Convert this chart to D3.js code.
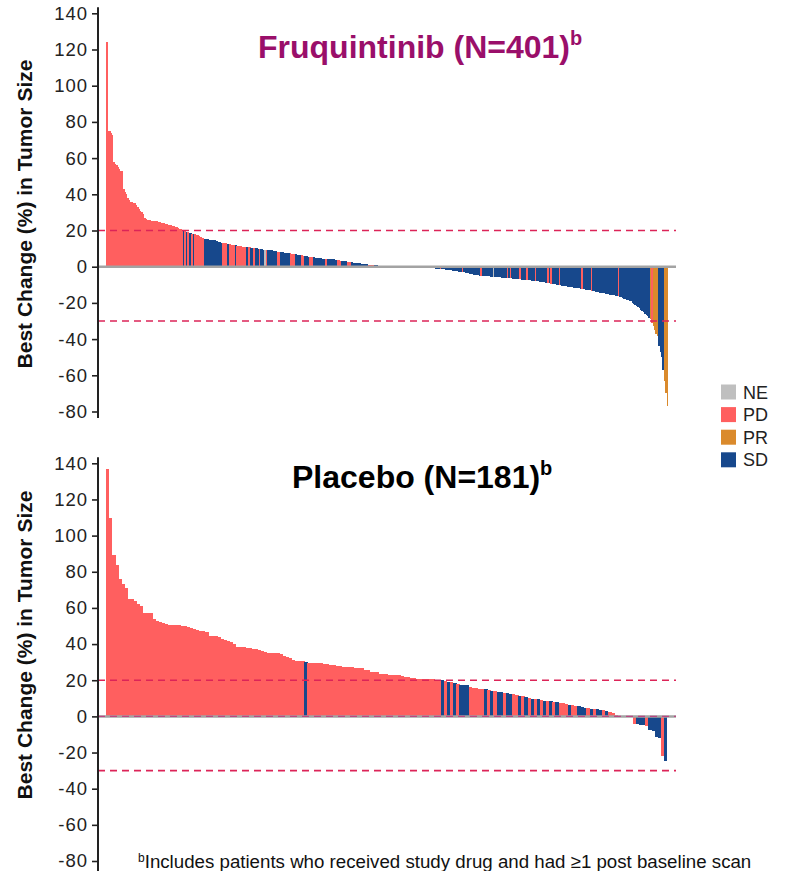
<!DOCTYPE html>
<html>
<head>
<meta charset="utf-8">
<title>Best Change in Tumor Size</title>
<script src="https://d3js.org/d3.v7.min.js"></script>
<style>
  body { margin: 0; background: #fff; }
  svg { font-family: "Liberation Sans", Arial, sans-serif; display: block; }
</style>
</head>
<body>
<div id="chart"></div>
<script>
// ---- data ----
var yTicks = [-80, -60, -40, -20, 0, 20, 40, 60, 80, 100, 120, 140];
var refLines = [20, -30];
var legendCodes = ["N", "P", "R", "S"];
var legendLabels = ["NE", "PD", "PR", "SD"];
var legendColors = ["#bfbfbf", "#ff5f5f", "#da8a2c", "#17488c"];

// Fruquintinib, one value per patient, sorted as in the plot
var fruqValues = [
  124, 75, 75, 74, 73,
  58, 57, 56, 55, 54, 53, 53,
  43, 41, 40,
  38, 37, 36, 36, 35, 35, 34, 33, 32, 31,
  30, 29, 27,
  26.5, 26, 26, 26, 25.5, 25.5, 25, 25, 25, 24.5, 24.5, 24, 24, 24, 23.5, 23.5, 23, 23, 23, 22.5, 22.5, 22, 22, 21.5, 21, 21, 20.5,
  20, 19.5, 19, 19, 18.5,
  18.5, 18, 18, 18, 17.5, 17.5,
  17, 16.5, 16, 16,
  15.5, 15.5, 15.5, 15, 15, 15, 14.5, 14.5, 14, 14, 13.5, 13.5,
  13, 13, 13, 13, 12.5, 12.5, 12.5, 12, 12, 12, 12, 11.5, 11.5, 11.5,
  11.5, 11, 11, 11, 11, 11, 11, 10.5, 10.5, 10.5, 10.5, 10.5,
  10, 10, 10, 10, 9.5, 9.5, 9.5, 9, 9, 9, 9, 8.5,
  8.5, 8.5, 8, 8, 8, 8, 8, 7.5, 7.5, 7.5, 7.5, 7.5,
  7, 7, 7, 7, 6.5, 6.5, 6.5, 6.5,
  6, 6, 6, 6, 5.5, 5.5, 5.5, 5.5, 5.5, 5, 5, 5, 5, 5, 4.5, 4.5, 4.5, 4.5, 4.5, 4, 4, 4, 4,
  3.5, 3.5, 3.5, 3.5, 3, 3, 3, 3, 3, 2.5, 2.5, 2.5, 2.5, 2, 2, 2, 2, 1.8, 1.8,
  1.5, 1.5, 1.5, 1.3, 1.3, 1.2, 1, 1, 1, 0.8, 0.8, 0.7, 0.6, 0.5, 0.5, 0.4, 0.3, 0.2, 0.1,
  0, 0, 0, 0, 0, 0, 0, 0, 0, 0, 0, 0, 0, 0, 0, 0, 0, 0, 0, 0, 0, 0, 0, 0, 0, 0,
  -0.2, -0.3, -0.3, -0.5, -0.5, -0.6, -0.8, -0.8, -1, -1, -1.1, -1.3, -1.3, -1.5, -1.5, -1.7, -1.8,
  -1.9, -2, -2, -2.2, -2.3, -2.5, -2.5, -2.7, -2.8, -3, -3, -3.2, -3.4, -3.5, -3.7, -3.9,
  -4.2, -4.3, -4.5, -4.6, -4.7, -4.8, -4.9, -5, -5, -5.1, -5.2, -5.3, -5.4, -5.4, -5.5, -5.6, -5.6, -5.7, -5.8, -5.8, -5.9, -5.9, -6, -6,
  -6.1, -6.2, -6.2, -6.3, -6.4, -6.5, -6.6, -6.7, -6.8, -6.8, -6.9, -7, -7.1, -7.2, -7.3, -7.4, -7.4, -7.5, -7.6, -7.7, -7.8, -7.9, -8, -8,
  -8.1, -8.2, -8.3, -8.5, -8.6, -8.8, -8.9, -9, -9.2, -9.3, -9.5, -9.6, -9.8, -9.9, -10, -10.2, -10.3, -10.5, -10.6, -10.7, -10.8, -11, -11.1,
  -11.2, -11.3, -11.5, -11.6, -11.8, -11.9, -12, -12.1, -12.3, -12.4, -12.5, -12.7, -12.8, -13, -13.1,
  -13.3, -13.4, -13.6, -13.8, -14, -14.1, -14.3, -14.5, -14.6, -14.8, -14.9, -15.1, -15.3, -15.4, -15.6, -15.8, -15.9, -16.1, -16.2,
  -16.4, -16.7, -17, -17.3, -17.6, -17.9, -18.2, -18.5, -18.8,
  -19.2, -19.8, -20.4, -21, -21.7, -22.3, -23,
  -23.7, -24.5, -25.3, -26, -26.8, -27.5, -28.2,
  -29, -31, -33, -35, -37, -38.5, -44, -47, -50, -57, -63, -70, -77
];
// response of each bar, as runs of [code, count]
var fruqStatusRuns = [
  ["P", 55], ["S", 1], ["P", 1], ["S", 1], ["P", 1], ["S", 2], ["P", 1], ["S", 1], ["P", 7],
  ["S", 13], ["P", 3], ["S", 2], ["P", 4], ["S", 1], ["P", 7],
  ["S", 1], ["P", 2], ["S", 2], ["P", 1], ["S", 3], ["P", 1], ["S", 3], ["N", 1], ["P", 1], ["S", 7], ["P", 2], ["S", 7], ["P", 4],
  ["S", 4], ["P", 2], ["S", 4], ["P", 3], ["S", 8], ["P", 2], ["S", 7], ["P", 3], ["S", 4], ["P", 3], ["S", 12], ["P", 4], ["S", 10],
  ["S", 26],
  ["S", 7], ["P", 1], ["S", 3], ["P", 1], ["S", 15], ["P", 1], ["S", 12], ["P", 1], ["S", 8], ["N", 1], ["S", 9],
  ["P", 1], ["S", 1], ["P", 1], ["S", 6], ["P", 1], ["S", 4], ["P", 1], ["S", 5], ["P", 1], ["S", 8], ["P", 1], ["S", 1], ["P", 1],
  ["S", 5], ["P", 1], ["S", 15], ["P", 1], ["S", 6], ["P", 1], ["S", 18], ["P", 1], ["S", 22],
  ["R", 1], ["P", 1], ["R", 4], ["S", 4], ["R", 3]
];

// Placebo
var placeboValues = [
  137, 110, 89, 84, 76, 73, 71, 65, 65, 64, 62, 61,
  57, 57, 57, 54, 52.5, 52, 51.5, 51, 50.5, 50.3, 50.3, 50.3, 50.2, 50, 49.5, 49, 48.5, 48, 47.5, 47, 46.5,
  44.5, 44.3, 44.2, 44, 43, 42.5, 41.5, 41, 40, 38.5, 38.3, 38.2, 38, 37.8, 37.3, 37, 36.8, 36.3, 35.5, 35.3, 35.2, 35, 34.8, 34.5, 33.5, 33, 32.5,
  31, 30.8, 30.6, 30.4,
  30,
  29.8, 29.7, 29.6, 29.5, 29.4, 29.2, 29,
  28.5, 28.3, 28,
  27.6, 27.5, 27.4, 27.3, 27.2, 27, 26.8, 26.5,
  25.8, 25.5,
  24.8, 24.6, 24.4,
  23.5, 23.3, 23.2, 23.1, 23, 22.9, 22.8, 22.5,
  21.8, 21.6, 21.5, 21.3,
  20.9, 20.8, 20.7, 20.7, 20.6, 20.5, 20.4, 20.3,
  20.2, 19.8, 19, 18.8, 18.2, 18, 17.6, 17.4, 17.2, 16, 15.8, 15.6, 15.4, 15.2, 15, 14.5, 14.3, 14, 13.5, 13.3, 13,
  12.8, 12.5, 12.2, 11.8, 11.4, 11, 10.5, 10.2, 9.8, 9.6, 9.4, 9.2, 8.7, 8.5, 8.3, 8.1, 7.9, 7.5, 7.2, 6.8, 6.4, 6.2, 6,
  5.5, 5.2, 4.8, 4.6, 4.2, 4.1, 4, 3.8, 3.4, 3.1, 2.4, 1.6, 0.9, 0.3,
  0, 0, 0, 0,
  -4, -4.4, -4.6, -5, -5.2, -7.5, -8, -11.5, -12, -22, -24.5
];
var placeboStatusRuns = [
  ["P", 64], ["S", 1], ["P", 43],
  ["S", 1], ["P", 1], ["S", 1], ["P", 1], ["S", 1], ["P", 1], ["S", 3], ["P", 5],
  ["S", 1], ["P", 1], ["S", 1], ["P", 1], ["S", 2], ["P", 1], ["S", 2], ["P", 2],
  ["S", 1], ["P", 1], ["S", 1], ["P", 1], ["S", 1], ["P", 1], ["S", 1], ["P", 1], ["S", 1], ["P", 1], ["S", 1], ["P", 1], ["S", 1],
  ["P", 3], ["S", 1], ["P", 2], ["S", 3], ["P", 1], ["S", 1], ["P", 1], ["S", 2], ["P", 1], ["S", 1], ["P", 8],
  ["P", 1], ["S", 3], ["P", 1], ["S", 4], ["P", 1], ["S", 1]
];

// ---- drawing ----
var width = 787, height = 871;
var color = d3.scaleOrdinal().domain(legendCodes).range(legendColors);

function expandRuns(runs) {
  var out = [];
  runs.forEach(function(r) { for (var i = 0; i < r[1]; i++) out.push(r[0]); });
  return out;
}

var svg = d3.select("#chart").append("svg")
    .attr("width", width)
    .attr("height", height);

function drawPanel(values, status, p) {
  var g = svg.append("g");
  var x = d3.scaleBand().domain(d3.range(values.length)).range([p.x0, p.x1]).padding(0);
  var y = d3.scaleLinear().domain([-80, 140]).range([p.yBottom, p.yTop]);

  var rows = values.map(function(v, i) { return {v: v, s: status[i] || "S", i: i}; });

  // bars
  g.selectAll("rect.bar")
    .data(rows.filter(function(d) { return d.v !== 0; }))
    .enter().append("rect")
      .attr("class", "bar")
      .attr("x", function(d) { return x(d.i); })
      .attr("width", x.bandwidth() + 0.3)
      .attr("y", function(d) { return y(Math.max(0, d.v)); })
      .attr("height", function(d) { return Math.abs(y(d.v) - y(0)); })
      .attr("fill", function(d) { return color(d.s); })
      .attr("shape-rendering", "crispEdges");

  // reference lines at +20% and -30%
  g.selectAll("line.ref")
    .data(refLines)
    .enter().append("line")
      .attr("x1", p.axisX).attr("x2", 676)
      .attr("y1", function(d) { return y(d); })
      .attr("y2", function(d) { return y(d); })
      .attr("stroke", "#dc2458")
      .attr("stroke-width", 1.6)
      .attr("stroke-dasharray", "7,5");

  // zero line
  g.append("line")
    .attr("x1", p.axisX).attr("x2", 676)
    .attr("y1", y(0)).attr("y2", y(0))
    .attr("stroke", "#a3a3a3")
    .attr("stroke-width", 2.5);
  if (p.zeroDash) {
    g.append("line")
      .attr("x1", p.axisX).attr("x2", 676)
      .attr("y1", y(0)).attr("y2", y(0))
      .attr("stroke", "#c2317a")
      .attr("stroke-width", 1.2)
      .attr("stroke-dasharray", "7,5")
      .attr("opacity", 0.8);
  }

  // y axis (plain hyphen for negatives, as in the original)
  var axis = g.append("g")
    .attr("transform", "translate(" + p.axisX + ",0)")
    .call(d3.axisLeft(y).tickValues(yTicks).tickSize(6).tickPadding(4).tickFormat(function(d) { return String(d); }));
  axis.select(".domain").remove();
  axis.selectAll(".tick line").attr("stroke", "#222").attr("stroke-width", 1.6);
  axis.selectAll(".tick text")
    .attr("fill", "#222")
    .style("font-size", "18.5px")
    .style("letter-spacing", "1px")
    .style("font-family", "'Liberation Sans', Arial, sans-serif");
  axis.append("line")
    .attr("x1", 0).attr("x2", 0)
    .attr("y1", y(140) - 6).attr("y2", p.axisEnd)
    .attr("stroke", "#222")
    .attr("stroke-width", 2);

  // axis title
  g.append("text")
    .attr("transform", "translate(32," + p.labelY + ") rotate(-90)")
    .attr("text-anchor", "middle")
    .style("font-size", "21px")
    .style("font-weight", "bold")
    .attr("fill", "#111")
    .text("Best Change (%) in Tumor Size");

  // panel title
  var t = g.append("text")
    .attr("x", p.titleX).attr("y", p.titleY)
    .style("font-size", "32px")
    .style("font-weight", "bold")
    .attr("fill", p.titleColor);
  t.append("tspan").text(p.title);
  t.append("tspan").attr("dy", -13).style("font-size", "20px").text("b");
}

drawPanel(fruqValues, expandRuns(fruqStatusRuns), {
  x0: 106, x1: 668, yTop: 13.3, yBottom: 411.5, axisX: 98, axisEnd: 418,
  labelY: 214, title: "Fruquintinib (N=401)", titleX: 258, titleY: 58, titleColor: "#9a0f6a",
  zeroDash: false
});

drawPanel(placeboValues, expandRuns(placeboStatusRuns), {
  x0: 106, x1: 667, yTop: 463.3, yBottom: 861, axisX: 98, axisEnd: 871,
  labelY: 645, title: "Placebo (N=181)", titleX: 292, titleY: 488, titleColor: "#000",
  zeroDash: true
});

// legend
var legend = svg.append("g");
legendCodes.forEach(function(c, i) {
  var cy = 392 + i * 22.6;
  legend.append("rect")
    .attr("x", 721).attr("y", cy - 7.5)
    .attr("width", 15).attr("height", 15)
    .attr("fill", color(c));
  legend.append("text")
    .attr("x", 743).attr("y", cy + 6.5)
    .style("font-size", "18px")
    .attr("fill", "#222")
    .text(legendLabels[i]);
});

// footnote
var foot = svg.append("text")
  .attr("x", 138).attr("y", 868)
  .style("font-size", "18.7px")
  .attr("fill", "#111");
foot.append("tspan").attr("dy", -6).style("font-size", "12px").text("b");
foot.append("tspan").attr("dy", 6).text("Includes patients who received study drug and had \u22651 post baseline scan");
</script>
</body>
</html>
